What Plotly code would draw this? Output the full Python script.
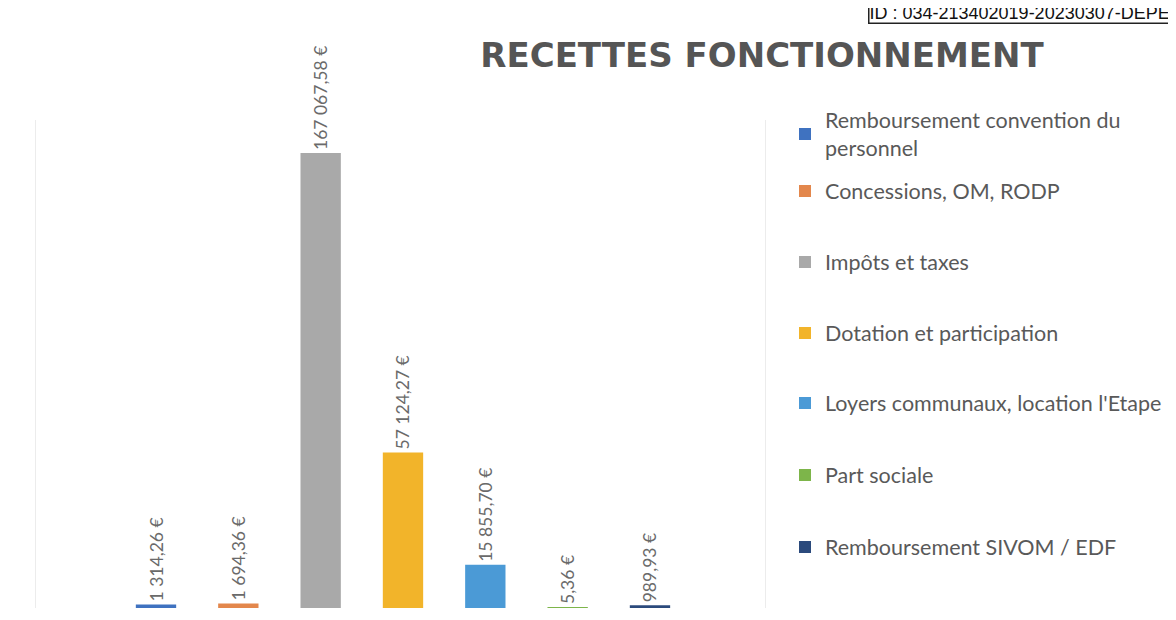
import plotly.graph_objects as go

categories = [
    "Remboursement convention du<br>personnel",
    "Concessions, OM, RODP",
    "Impôts et taxes",
    "Dotation et participation",
    "Loyers communaux, location l'Etape",
    "Part sociale",
    "Remboursement SIVOM / EDF",
]
values = [1314.26, 1694.36, 167067.58, 57124.27, 15855.70, 5.36, 989.93]
labels = ["1 314,26 €", "1 694,36 €", "167 067,58 €", "57 124,27 €",
          "15 855,70 €", "5,36 €", "989,93 €"]
colors = ["#3f72c0", "#e3874c", "#a9a9a9", "#f2b42a", "#4b9ad6", "#7db54a", "#2b4a7c"]

# page offset (browser body margin) compensation
O = 8
W, H = 1176, 620
L, R, T, B = 36 - O, 765 - O, 120 - O, 608 - O

def px_y(y):  # figure pixel -> paper y
    return (B - y) / (B - T)

def px_x(x):
    return (x - L) / (R - L)

legend_centers = [134, 191, 262, 333, 403, 475, 547]

fig = go.Figure()
layout_legends = {}
for i, (c, v, lab, col) in enumerate(zip(categories, values, labels, colors)):
    lid = "legend" if i == 0 else f"legend{i + 1}"
    fig.add_trace(go.Bar(
        x=[c], y=[v], name=c, text=[lab],
        marker=dict(color=col, line=dict(width=0)),
        textposition="outside", textangle=-90, constraintext="none",
        textfont=dict(family="Lato", size=17.5, color="#6a6a6a"),
        cliponaxis=False, width=0.49, legend=lid,
    ))
    layout_legends[lid] = dict(
        x=px_x(785 - O), xanchor="left",
        y=px_y(legend_centers[i] - O), yanchor="middle",
        font=dict(family="Lato", size=21.5, color="#595959"),
        itemwidth=30, bgcolor="rgba(0,0,0,0)",
    )

fig.update_layout(
    width=W, height=H,
    margin=dict(l=L, r=W - R, t=T, b=H - B),
    paper_bgcolor="white", plot_bgcolor="white",
    barmode="overlay",
    title=dict(text="RECETTES FONCTIONNEMENT", x=(762 - O) / W, xanchor="center",
               y=1 - (55 - O) / H, yanchor="middle", xref="container", yref="container",
               font=dict(family="DejaVu Sans", size=34, color="#555555", weight="bold")),
    showlegend=True,
    xaxis=dict(type="category", categoryorder="array", categoryarray=categories,
               range=[-1.4575, 7.397], showticklabels=False, showgrid=False,
               zeroline=False, showline=False, ticks=""),
    yaxis=dict(range=[0, 167067.58 * (B - T) / (B - (153 - O))], showticklabels=False,
               showgrid=False, zeroline=False, showline=True, mirror=True,
               linecolor="#ececec", linewidth=1, ticks=""),
    **layout_legends,
)

fig.add_annotation(
    text="ID : 034-213402019-20230307-DEPE", xref="paper", yref="paper",
    x=px_x(868 - O), y=px_y(24 - O), xanchor="left", yanchor="bottom",
    showarrow=False, font=dict(family="Liberation Sans", size=18, color="#111111"),
    bordercolor="#222222", borderwidth=1.5, borderpad=0, bgcolor="white", align="left",
)

fig.write_html("out.html")
